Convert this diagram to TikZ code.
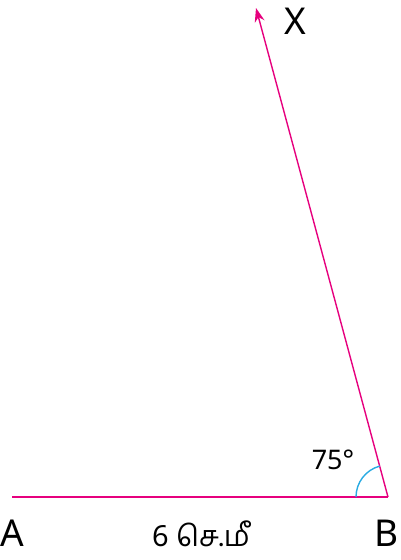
\documentclass[tikz,border=0pt]{standalone}
\usepackage{fontspec}
\setmainfont{Noto Sans}
\newfontfamily\tamilfont[Script=Tamil]{Hind Madurai}
\usetikzlibrary{arrows.meta}
\definecolor{linepink}{HTML}{E6007E}
\definecolor{arccyan}{HTML}{29ABE2}
\tikzset{
  seg/.style={draw=linepink, line width=1.4pt},
  anglearc/.style={draw=arccyan, line width=1.4pt},
  ptlabel/.style={font=\fontsize{37}{42}\selectfont, inner sep=0pt},
  anglabel/.style={font=\fontsize{27}{30}\selectfont, inner sep=0pt},
  lenlabel/.style={font=\fontsize{29}{32}\selectfont, inner sep=0pt}
}
\begin{document}
\begin{tikzpicture}[x=1pt,y=-1pt]
\useasboundingbox (0,0) rectangle (400,560);
\coordinate (A0) at (12,497);
\coordinate (B0) at (388,497);
\coordinate (X0) at (256,8);
\draw[seg] (A0) -- (B0);
\draw[seg, -{Stealth[length=14pt,width=10pt]}] (B0) -- (X0);
\draw[anglearc] ([shift={(-32,0)}]B0) arc[start angle=180, end angle=255, radius=32];
\node[ptlabel] (A) at (12,533) {A};
\node[ptlabel] (B) at (387,533) {B};
\node[ptlabel] (X) at (295,21) {X};
\node[anglabel] (ang) at (333,460) {75°};
\node[lenlabel] (len) at (201,534) {6 {\tamilfont செ.மீ}};
\end{tikzpicture}
\end{document}
